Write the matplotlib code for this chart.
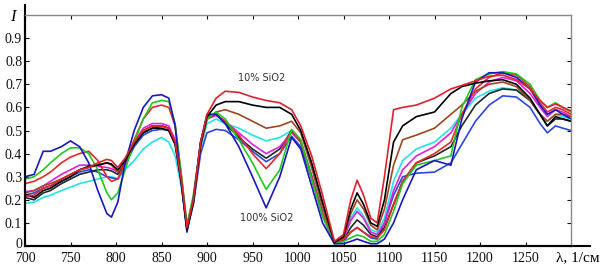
import matplotlib
matplotlib.use("Agg")
import matplotlib.pyplot as plt
from matplotlib.transforms import ScaledTranslation

# wavenumber grid, 1/cm
wn = [700, 710, 720, 728, 740, 750, 760, 770, 780, 790,
      795, 802, 810, 820, 830, 840, 850, 858, 865, 872,
      878, 885, 893, 900, 910, 920, 935, 950, 965, 980,
      993, 1003, 1015, 1027, 1040, 1050, 1058, 1065, 1072, 1080,
      1087, 1095, 1105, 1115, 1130, 1150, 1168, 1180, 1195, 1210,
      1225, 1240, 1255, 1266, 1274, 1283, 1291, 1300]

# 10% SiO2
red = [0.215, 0.22, 0.25, 0.26, 0.29, 0.31, 0.33, 0.34, 0.36, 0.375,
       0.37, 0.34, 0.38, 0.45, 0.50, 0.52, 0.52, 0.51, 0.45, 0.28,
       0.08, 0.20, 0.45, 0.57, 0.64, 0.67, 0.665, 0.645, 0.63, 0.62,
       0.59, 0.52, 0.39, 0.22, 0.02, 0.05, 0.20, 0.285, 0.22, 0.12,
       0.10, 0.30, 0.59, 0.60, 0.61, 0.64, 0.68, 0.695, 0.715, 0.735,
       0.74, 0.72, 0.68, 0.63, 0.60, 0.615, 0.60, 0.585]
black = [0.225, 0.21, 0.24, 0.25, 0.28, 0.30, 0.33, 0.345, 0.35, 0.36,
         0.355, 0.33, 0.37, 0.44, 0.49, 0.51, 0.51, 0.50, 0.44, 0.27,
         0.07, 0.19, 0.44, 0.56, 0.61, 0.625, 0.625, 0.61, 0.60, 0.60,
         0.57, 0.50, 0.36, 0.19, 0.015, 0.04, 0.16, 0.23, 0.18, 0.10,
         0.085, 0.20, 0.45, 0.52, 0.56, 0.58, 0.66, 0.69, 0.705, 0.715,
         0.72, 0.70, 0.64, 0.57, 0.52, 0.56, 0.55, 0.54]
brown = [0.23, 0.24, 0.26, 0.27, 0.29, 0.31, 0.33, 0.34, 0.35, 0.36,
         0.35, 0.32, 0.37, 0.45, 0.50, 0.52, 0.52, 0.51, 0.45, 0.28,
         0.08, 0.19, 0.44, 0.55, 0.58, 0.59, 0.57, 0.54, 0.51, 0.52,
         0.54, 0.49, 0.34, 0.17, 0.015, 0.035, 0.14, 0.20, 0.16, 0.09,
         0.07, 0.16, 0.35, 0.46, 0.48, 0.51, 0.57, 0.61, 0.67, 0.70,
         0.71, 0.69, 0.63, 0.57, 0.54, 0.57, 0.57, 0.56]
cyan = [0.185, 0.19, 0.21, 0.22, 0.24, 0.255, 0.27, 0.28, 0.29, 0.30,
        0.30, 0.29, 0.33, 0.37, 0.42, 0.45, 0.47, 0.45, 0.39, 0.25,
        0.08, 0.18, 0.42, 0.53, 0.55, 0.53, 0.51, 0.48, 0.455, 0.47,
        0.50, 0.46, 0.31, 0.15, 0.015, 0.03, 0.12, 0.165, 0.13, 0.07,
        0.06, 0.12, 0.28, 0.37, 0.42, 0.45, 0.51, 0.57, 0.64, 0.67,
        0.685, 0.675, 0.63, 0.57, 0.54, 0.57, 0.56, 0.55]
magenta = [0.235, 0.24, 0.26, 0.28, 0.31, 0.33, 0.35, 0.35, 0.345, 0.34,
           0.335, 0.32, 0.37, 0.45, 0.51, 0.53, 0.53, 0.52, 0.46, 0.29,
           0.08, 0.20, 0.44, 0.55, 0.565, 0.54, 0.49, 0.44, 0.40, 0.43,
           0.49, 0.45, 0.30, 0.14, 0.015, 0.03, 0.11, 0.15, 0.12, 0.06,
           0.05, 0.10, 0.24, 0.33, 0.39, 0.43, 0.49, 0.57, 0.66, 0.71,
           0.73, 0.715, 0.66, 0.60, 0.56, 0.59, 0.58, 0.56]
dark = [0.21, 0.20, 0.23, 0.24, 0.27, 0.29, 0.31, 0.32, 0.33, 0.33,
        0.325, 0.31, 0.36, 0.44, 0.49, 0.51, 0.52, 0.51, 0.45, 0.28,
        0.075, 0.19, 0.45, 0.56, 0.57, 0.53, 0.47, 0.42, 0.38, 0.42,
        0.50, 0.45, 0.30, 0.14, 0.015, 0.025, 0.08, 0.113, 0.09, 0.05,
        0.04, 0.08, 0.18, 0.28, 0.36, 0.39, 0.43, 0.52, 0.61, 0.66,
        0.68, 0.675, 0.63, 0.57, 0.52, 0.55, 0.55, 0.54]
blue2 = [0.22, 0.23, 0.25, 0.26, 0.28, 0.30, 0.32, 0.33, 0.32, 0.30,
         0.295, 0.29, 0.35, 0.43, 0.48, 0.50, 0.505, 0.50, 0.44, 0.27,
         0.07, 0.18, 0.40, 0.49, 0.505, 0.50, 0.46, 0.41, 0.365, 0.40,
         0.475, 0.43, 0.29, 0.13, 0.01, 0.02, 0.06, 0.08, 0.06, 0.035,
         0.03, 0.10, 0.22, 0.30, 0.315, 0.32, 0.36, 0.44, 0.54, 0.61,
         0.65, 0.645, 0.60, 0.53, 0.49, 0.52, 0.51, 0.50]
red2 = [0.27, 0.28, 0.30, 0.32, 0.36, 0.385, 0.40, 0.41, 0.37, 0.30,
        0.28, 0.29, 0.36, 0.46, 0.55, 0.60, 0.61, 0.60, 0.52, 0.30,
        0.09, 0.21, 0.44, 0.55, 0.57, 0.54, 0.48, 0.40, 0.335, 0.40,
        0.50, 0.45, 0.30, 0.14, 0.015, 0.03, 0.06, 0.08, 0.06, 0.04,
        0.035, 0.07, 0.18, 0.28, 0.36, 0.40, 0.45, 0.57, 0.68, 0.73,
        0.75, 0.74, 0.69, 0.62, 0.58, 0.60, 0.59, 0.57]
green = [0.29, 0.30, 0.33, 0.36, 0.40, 0.425, 0.425, 0.40, 0.33, 0.23,
         0.20, 0.23, 0.33, 0.45, 0.55, 0.62, 0.63, 0.625, 0.53, 0.30,
         0.09, 0.22, 0.45, 0.55, 0.58, 0.55, 0.46, 0.36, 0.245, 0.33,
         0.505, 0.46, 0.29, 0.13, 0.01, 0.02, 0.035, 0.048, 0.04, 0.02,
         0.02, 0.05, 0.15, 0.27, 0.35, 0.37, 0.39, 0.60, 0.72, 0.745,
         0.755, 0.745, 0.70, 0.63, 0.60, 0.62, 0.60, 0.58]
# 100% SiO2
blue = [0.30, 0.31, 0.41, 0.41, 0.43, 0.455, 0.43, 0.36, 0.24, 0.14,
        0.125, 0.19, 0.36, 0.50, 0.60, 0.65, 0.655, 0.64, 0.52, 0.26,
        0.06, 0.20, 0.45, 0.57, 0.57, 0.53, 0.43, 0.30, 0.165, 0.30,
        0.47, 0.42, 0.26, 0.10, 0.01, 0.01, 0.02, 0.03, 0.02, 0.01,
        0.01, 0.03, 0.10, 0.20, 0.33, 0.37, 0.35, 0.55, 0.71, 0.75,
        0.75, 0.73, 0.68, 0.61, 0.57, 0.59, 0.57, 0.55]

series = [
    (cyan, "#20e6e6"),
    (blue2, "#2848e0"),
    (dark, "#1c2a28"),
    (magenta, "#e020e0"),
    (brown, "#a0461e"),
    (red2, "#e82828"),
    (green, "#20c820"),
    (blue, "#1818c0"),
    (black, "#000000"),
    (red, "#e0202c"),
]

fig = plt.figure(figsize=(6.04, 2.70), dpi=100)
ax = fig.add_axes([25 / 604, 24 / 270, 546 / 604, 231 / 270])

for vals, col in series:
    ax.plot(wn, vals, color=col, lw=1.2)

ax.set_xlim(700, 1300)
ax.set_ylim(0, 1)
ax.set_xticks(range(700, 1300, 50))
ax.set_yticks([i / 10 for i in range(10)])
ax.set_yticklabels(["0"] + ["%.1f" % (i / 10) for i in range(1, 10)])

ax.tick_params(direction="in", length=3, width=0.8, top=True, right=True,
               labelsize=10, colors="#111111")
ax.tick_params(axis="x", pad=4)
ax.tick_params(axis="y", pad=2)
for lbl in ax.get_xticklabels() + ax.get_yticklabels():
    lbl.set_fontfamily("Liberation Serif")

# nudge the "0" a few pixels up so it clears "700"
zero = ax.yaxis.get_major_ticks()[0].label1
zero.set_transform(zero.get_transform() +
                   ScaledTranslation(0, 3 / 100, fig.dpi_scale_trans))

for s in ("top", "right"):
    ax.spines[s].set_color("#888888")
    ax.spines[s].set_linewidth(1.0)
for s in ("left", "bottom"):
    ax.spines[s].set_color("black")
    ax.spines[s].set_linewidth(1.5)

# axis arrows extended past the frame
ax.plot([0, 0], [0, 1.045], transform=ax.transAxes, color="black",
        lw=1.5, clip_on=False)
ax.plot([0, 1.035], [0, 0], transform=ax.transAxes, color="black",
        lw=1.5, clip_on=False)

ax.text(960, 0.727, "10% SiO2", fontsize=7, color="#333333",
        ha="center", va="center")
ax.text(966, 0.121, "100% SiO2", fontsize=7, color="#333333",
        ha="center", va="center")

fig.text(13 / 604, 1 - 17 / 270, "I", fontsize=12, style="italic",
         family="Liberation Serif", ha="center", va="center")
fig.text(600 / 604, 1 - 258 / 270, "λ, 1/см", fontsize=11,
         family="Liberation Serif", ha="right", va="center")

fig.savefig("out.png", dpi=100)
